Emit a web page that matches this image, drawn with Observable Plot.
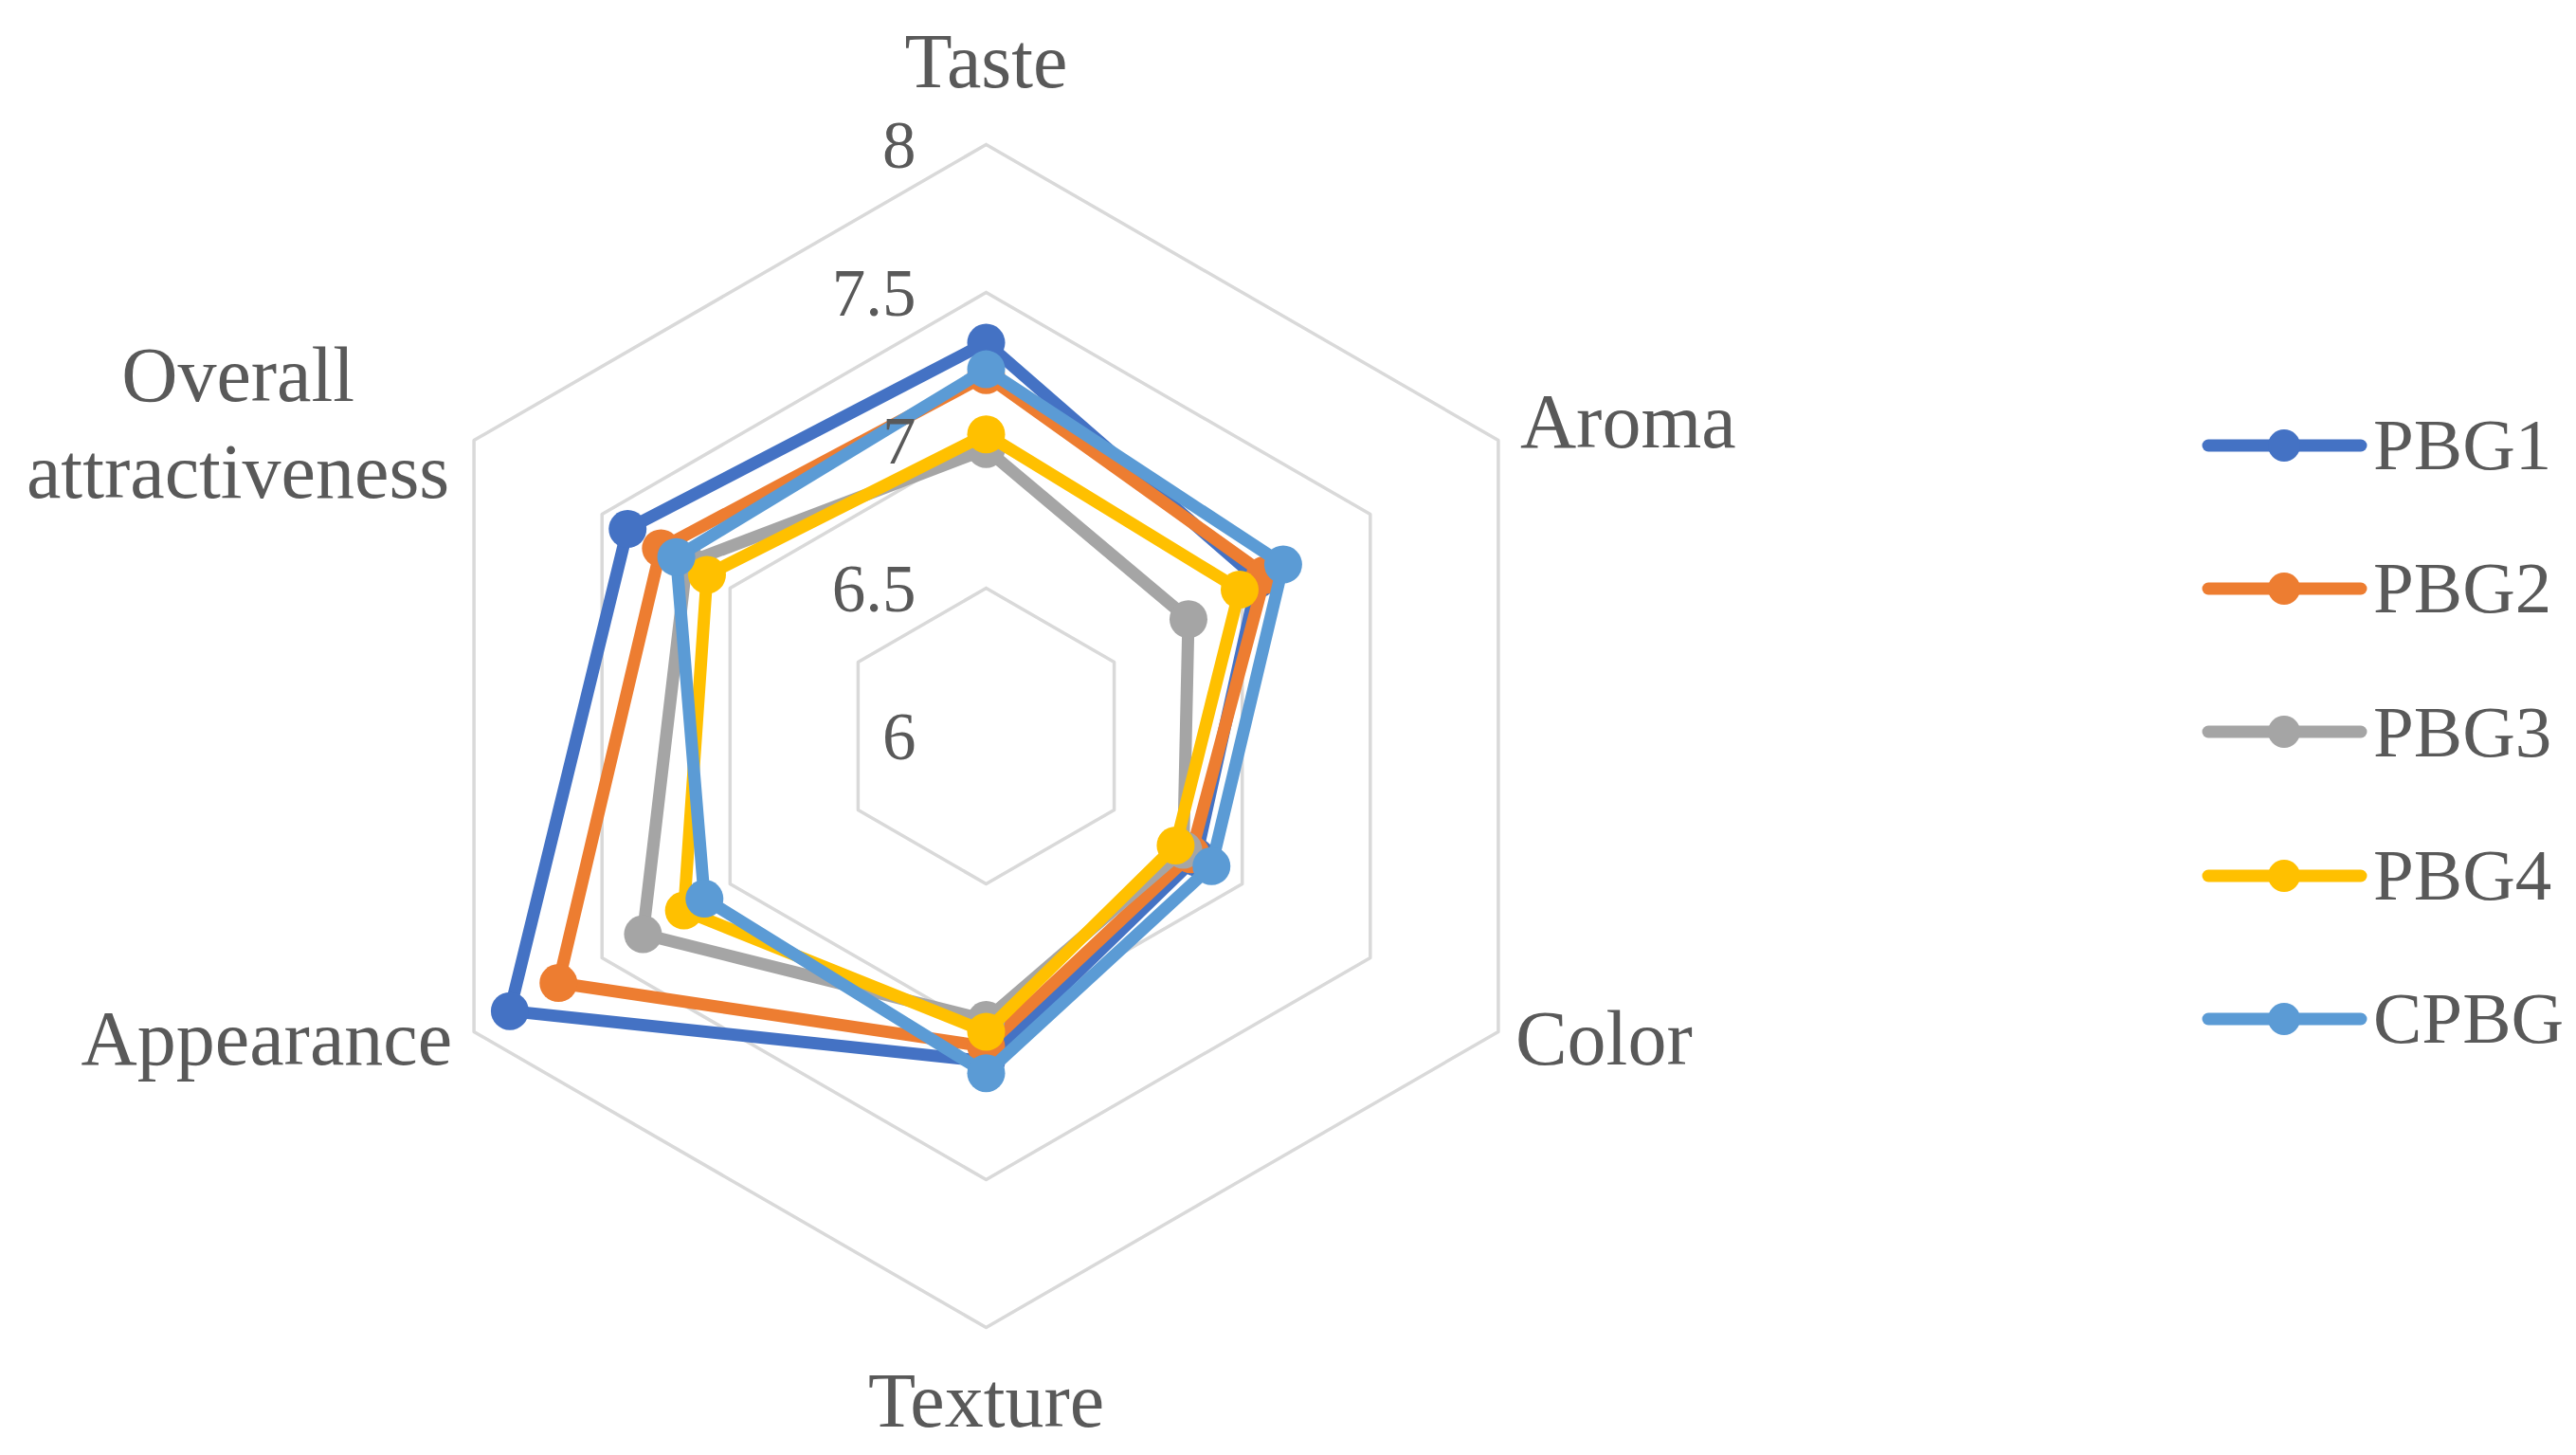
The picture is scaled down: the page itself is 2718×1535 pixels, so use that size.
<!DOCTYPE html>
<html>
<head>
<meta charset="utf-8">
<script src="https://cdn.jsdelivr.net/npm/d3@7"></script>
<script src="https://cdn.jsdelivr.net/npm/@observablehq/plot@0.6"></script>
<style>
  html, body { margin: 0; padding: 0; background: #ffffff; }
  #wrap { position: relative; width: 2718px; height: 1535px; overflow: hidden; }
  #chart { position: absolute; left: 0; top: 0; }
  #legend { position: absolute; left: 2323px; top: 394px; font-family: "Liberation Serif", serif; color: #595959; }
  .row { height: 151.3px; display: flex; align-items: center; font-size: 77px; }
  .row svg { display: block; margin-right: 6px; }
</style>
</head>
<body>
<div id="wrap"><div id="chart"></div><div id="legend"></div></div>
<script>
// ---- data ----
const categories = ["Taste", "Aroma", "Color", "Texture", "Appearance", "Overall attractiveness"];
const seriesNames = ["PBG1", "PBG2", "PBG3", "PBG4", "CPBG"];
const PBG1 = [7.33, 7.06, 6.82, 7.10, 7.86, 7.40];
const PBG2 = [7.22, 7.09, 6.80, 7.05, 7.67, 7.27];
const PBG3 = [6.97, 6.79, 6.77, 6.96, 7.34, 7.17];
const PBG4 = [7.02, 6.99, 6.74, 7.00, 7.18, 7.09];
const CPBG = [7.24, 7.16, 6.88, 7.14, 7.10, 7.21];
const seriesValues = [PBG1, PBG2, PBG3, PBG4, CPBG];
const seriesColors = ["#4472C4", "#ED7D31", "#A5A5A5", "#FFC000", "#5B9BD5"];
const tickValues = [6, 6.5, 7, 7.5, 8];
const tickLabels = ["6", "6.5", "7", "7.5", "8"];

// ---- layout ----
const W = 2718, H = 1535;
const cx = 1040, cy = 776, unit = 312;   // centre (px) and px per score unit
const rMin = tickValues[0], rMax = tickValues[tickValues.length - 1];
const n = categories.length;
const ang = i => (i % n) * 2 * Math.PI / n;
const X = (v, i) => (v - rMin) * Math.sin(ang(i));
const Y = (v, i) => (v - rMin) * Math.cos(ang(i));

// grid hexagons (rings above the centre value)
const gridPts = [];
tickValues.filter(t => t > rMin).forEach(t => {
  for (let j = 0; j <= n; j++) gridPts.push({ring: t, x: X(t, j), y: Y(t, j)});
});

// category label placement
const labelStyle = [
  {anchor: "middle", dx: 0, dy: -93},
  {anchor: "start", dx: 23, dy: -25},
  {anchor: "start", dx: 18, dy: 2},
  {anchor: "middle", dx: 0, dy: 72},
  {anchor: "end", dx: -23, dy: 2},
  {anchor: "middle", dx: -249, dy: -23}
];
const catLabels = categories.map((c, i) => ({
  text: c === "Overall attractiveness" ? "Overall\nattractiveness" : c,
  x: X(rMax, i), y: Y(rMax, i), ...labelStyle[i]
}));

const tickData = tickValues.map((t, k) => ({x: 0, y: t - rMin, text: tickLabels[k]}));

const marks = [
  Plot.line(gridPts, {x: "x", y: "y", z: "ring", stroke: "#D9D9D9", strokeWidth: 3.5})
];
seriesNames.forEach((s, k) => {
  const vals = seriesValues[k];
  const pts = vals.map((v, i) => ({series: s, x: X(v, i), y: Y(v, i)}));
  marks.push(Plot.line([...pts, pts[0]], {x: "x", y: "y", stroke: seriesColors[k], strokeWidth: 13, strokeLinejoin: "round", strokeLinecap: "round"}));
  marks.push(Plot.dot(pts, {x: "x", y: "y", r: 20, fill: seriesColors[k], stroke: "none"}));
});
marks.push(Plot.text(tickData, {x: "x", y: "y", text: "text", textAnchor: "end", dx: -74, dy: 2, fill: "#595959", fontSize: 71, fontFamily: "Liberation Serif"}));
catLabels.forEach(d => {
  marks.push(Plot.text([d], {
    x: "x", y: "y", text: "text", textAnchor: d.anchor, dx: d.dx, dy: d.dy,
    fill: "#595959", fontSize: 82, fontFamily: "Liberation Serif", lineHeight: 1.24
  }));
});

const chart = Plot.plot({
  width: W, height: H,
  margin: 0,
  x: {domain: [-cx / unit, (W - cx) / unit], axis: null},
  y: {domain: [(cy - H) / unit, cy / unit], axis: null},
  style: {background: "#ffffff", overflow: "visible"},
  marks
});
document.getElementById("chart").appendChild(chart);

// legend
const legend = document.getElementById("legend");
seriesNames.forEach((s, k) => {
  const row = document.createElement("div");
  row.className = "row";
  row.innerHTML = `<svg width="175" height="44"><line x1="7" y1="22" x2="168" y2="22" stroke="${seriesColors[k]}" stroke-width="13" stroke-linecap="round"/><circle cx="87" cy="22" r="17" fill="${seriesColors[k]}"/></svg><span>${s}</span>`;
  legend.appendChild(row);
});
</script>
</body>
</html>
